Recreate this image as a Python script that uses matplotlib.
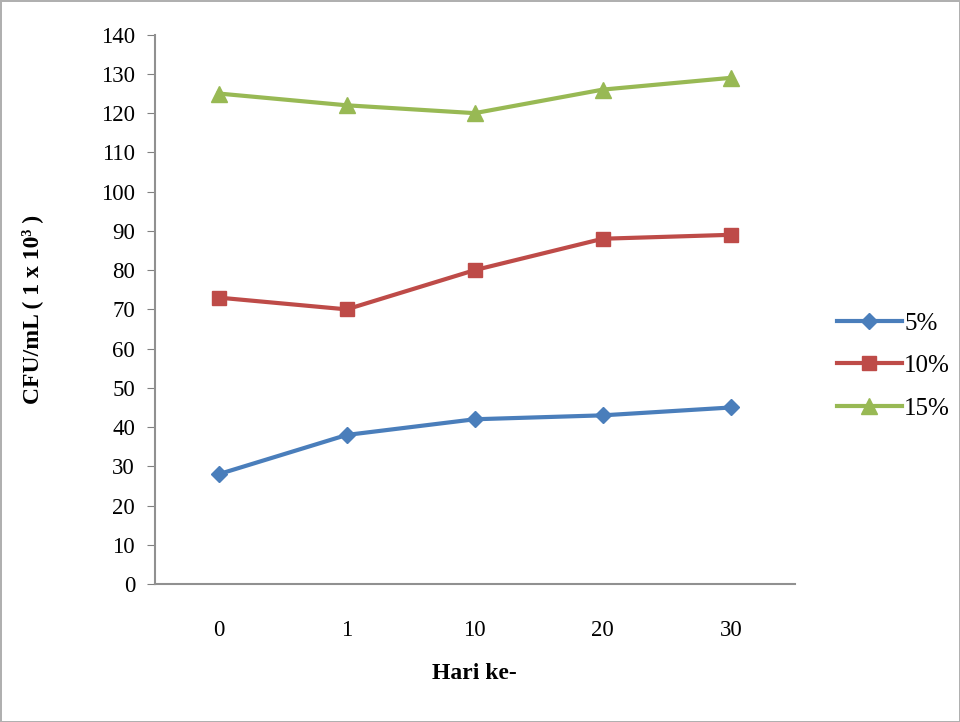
import matplotlib.pyplot as plt
import numpy as np

plt.rcParams['font.family'] = ['Liberation Serif', 'DejaVu Serif']

days = ['0', '1', '10', '20', '30']
s5 = [28, 38, 42, 43, 45]
s10 = [73, 70, 80, 88, 89]
s15 = [125, 122, 120, 126, 129]

fig = plt.figure(figsize=(9.6, 7.22), dpi=100)
fig.patch.set_edgecolor('#b0b0b0')
fig.patch.set_linewidth(2)
ax = fig.add_axes([0.161, 0.191, 0.667, 0.761])

x = np.arange(len(days))
ax.plot(x, s5, color='#4a7ebb', lw=3, marker='D', ms=8, label='5%')
ax.plot(x, s10, color='#be4b48', lw=3, marker='s', ms=10, label='10%')
ax.plot(x, s15, color='#98b954', lw=3, marker='^', ms=11, label='15%')

ax.set_xlim(-0.5, 4.5)
ax.set_ylim(0, 140)
ax.set_yticks(range(0, 141, 10))
ax.set_xticks(x)
ax.set_xticklabels(days)
ax.tick_params(axis='y', labelsize=16.5, length=6, color='#808080', direction='out', pad=8)
ax.tick_params(axis='x', labelsize=16.5, length=0, pad=26)
for s in ['top', 'right']:
    ax.spines[s].set_visible(False)
for s in ['left', 'bottom']:
    ax.spines[s].set_color('#909090')
    ax.spines[s].set_linewidth(1.5)

ax.set_xlabel('Hari ke-', fontsize=17, fontweight='bold', labelpad=16)
ax.set_ylabel('CFU/mL ( 1 x 10³ )', fontsize=17, fontweight='bold', labelpad=42)

ax.legend(loc='center left', bbox_to_anchor=(1.03, 0.397), frameon=False,
          fontsize=18, handlelength=2.6, handletextpad=0.1, labelspacing=0.8)

fig.savefig('out.png', dpi=100, edgecolor=fig.get_edgecolor())
